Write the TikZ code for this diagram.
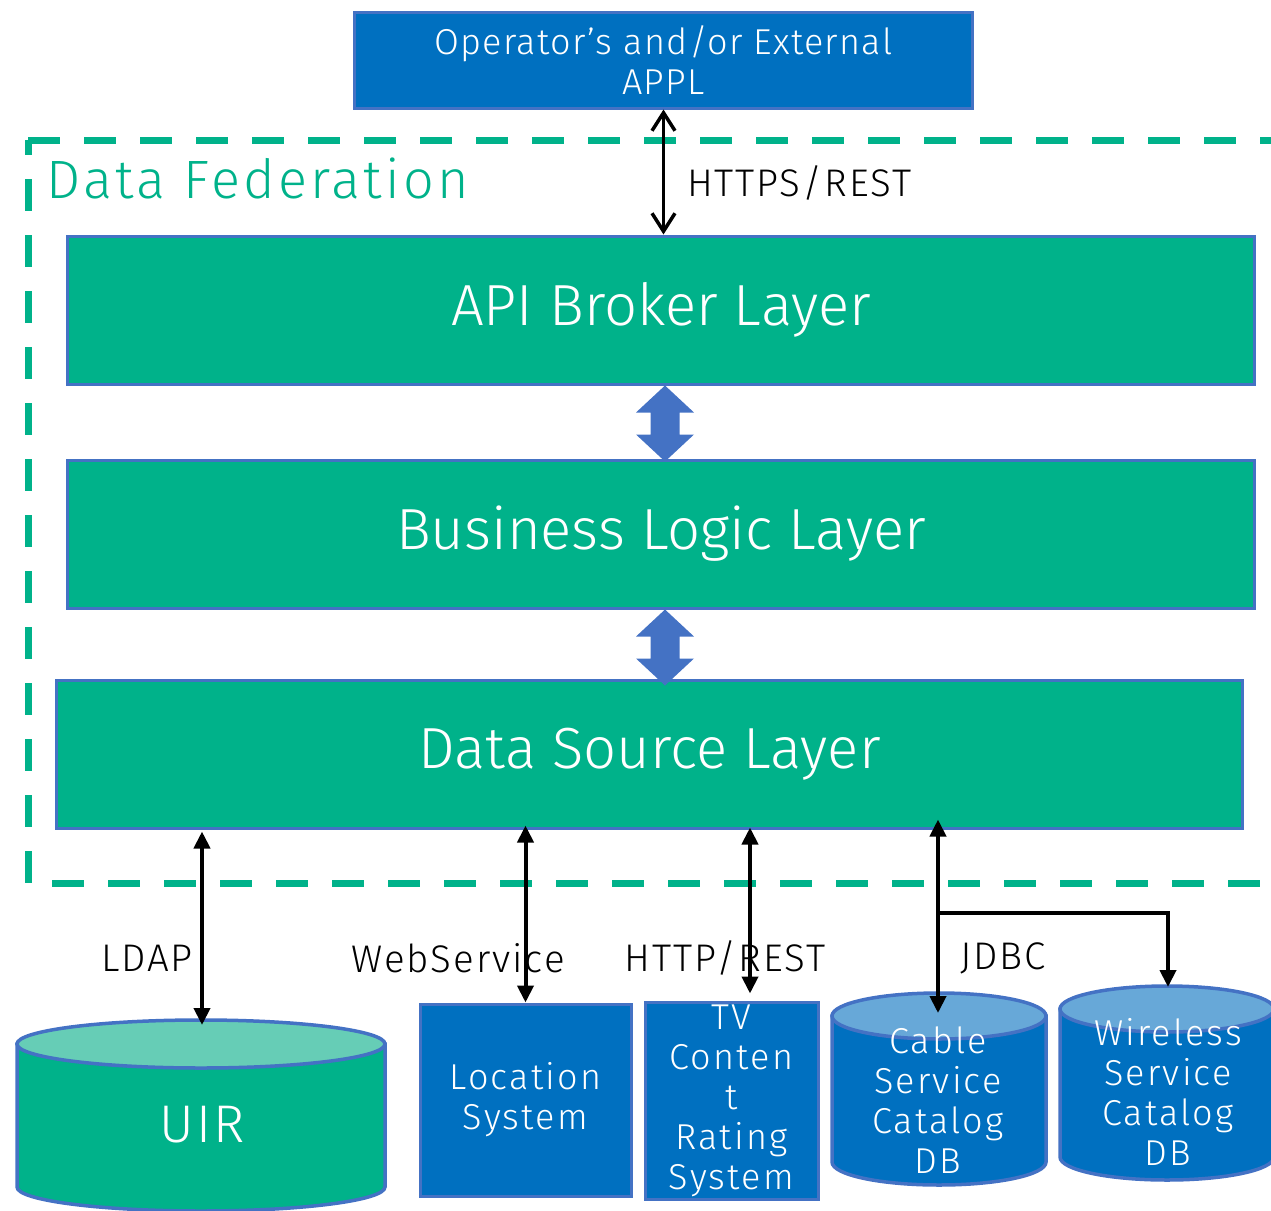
\documentclass[tikz,border=0pt]{standalone}
\usepackage{fontspec}
\setmainfont{Fira Sans Light}
\usetikzlibrary{arrows.meta,calc}

\definecolor{dfgreen}{HTML}{00B28A}
\definecolor{dftop}{HTML}{66CDB6}
\definecolor{sysblue}{HTML}{0070C0}
\definecolor{systop}{HTML}{67A8D8}
\definecolor{edgeblue}{HTML}{4472C4}

% size, leading, letter spacing
\newcommand\fs[3]{\fontsize{#1bp}{#2bp}\addfontfeatures{LetterSpace=#3}\selectfont}

% database cylinder: centre x, radius x, top centre y, bottom centre y, radius y, body, lid
\newcommand\dbcyl[7]{%
  \filldraw[cylline, fill=#6] (#1-#2,#3) -- (#1-#2,#4)
    arc[start angle=180, end angle=0, x radius=#2, y radius=#5] -- (#1+#2,#3) -- cycle;
  \filldraw[cylline, fill=#7] (#1,#3) ellipse[x radius=#2, y radius=#5];
}

% broad two-headed arrow between stacked layers, starting at its upper tip
\newcommand\fatarrow[1]{%
  \fill[edgeblue] #1 -- ++(29,27) -- ++(-14.5,0) -- ++(0,22) -- ++(14.5,0)
    -- ++(-29,27) -- ++(-29,-27) -- ++(14.5,0) -- ++(0,-22) -- ++(-14.5,0) -- cycle;
}

\begin{document}
\begin{tikzpicture}[x=1bp, y=-1bp,
  bluebox/.style={fill=sysblue, draw=edgeblue, line width=3bp, text=white,
    align=center, inner sep=0pt},
  layer/.style={fill=dfgreen, draw=edgeblue, line width=3bp, text=white,
    minimum height=148bp, inner sep=0pt, font=\fs{58}{64}{0}},
  cylline/.style={draw=edgeblue, line width=3.5bp},
  celltext/.style={text=white, align=center, inner sep=0pt},
  lbl/.style={text=black, inner sep=0pt, font=\fs{38.5}{40}{5}},
  frame/.style={draw=dfgreen, line width=7bp, dash pattern=on 32bp off 24bp},
  webline/.style={line width=3bp, black,
    {Straight Barb[length=18bp,width=23bp,line width=3.5bp]}-{Straight Barb[length=18bp,width=23bp,line width=3.5bp]}},
  link/.style={line width=4bp, black,
    {Triangle[length=17bp,width=16bp]}-{Triangle[length=17bp,width=16bp]}},
  onelink/.style={line width=4bp, black, -{Triangle[length=17bp,width=16bp]}}
]
\useasboundingbox (0,0) rectangle (1271,1211);

% federation boundary
\draw[frame, dash phase=17bp] (28,140) -- (28,885);
\draw[frame] (28,140) -- (1300,140);
\draw[frame, dash phase=32bp] (28,883) -- (1300,883);
\node[text=dfgreen, anchor=west, inner sep=0pt, font=\fs{54}{56}{6}] (fedtitle) at (46,178) {Data Federation};

% external application
\node[bluebox, minimum width=617bp, minimum height=96bp, font=\fs{36}{40}{3.5}] (appl)
  at (663.5,60) {Operator’s and/or External\\APPL};

% layers
\node[layer, minimum width=1186bp] (api) at (661,310) {API Broker Layer};
\node[layer, minimum width=1186bp] (biz) at (661,534) {Business Logic Layer};
\node[layer, minimum width=1185bp] (dsl) at (649.5,754) {Data Source Layer};

\draw[webline] (appl.south) -- (appl.south |- api.north);
\node[lbl, anchor=west] (httpslbl) at (687,183) {HTTPS/REST};

\fatarrow{([xshift=4bp]api.south)}
\fatarrow{([xshift=4bp]biz.south)}

% data sources
\dbcyl{201}{184}{1044}{1187}{24}{dfgreen}{dftop}
\dbcyl{939}{107}{1016}{1162}{23}{sysblue}{systop}
\dbcyl{1167}{107}{1009}{1157}{23}{sysblue}{systop}

\node[celltext, font=\fs{53}{56}{4}] (uir) at (202,1125) {UIR};
\node[bluebox, minimum width=211bp, minimum height=192bp, font=\fs{36}{40}{6}] (loc)
  at (525.5,1100) {Location\\System};
\node[bluebox, minimum width=173bp, minimum height=197bp, font=\fs{36}{40}{6}] (tv)
  at (731.5,1100.5) {TV\\Conten\\t\\Rating\\System};
\node[celltext, font=\fs{36}{40}{6}] (cable) at (938,1100) {Cable\\Service\\Catalog\\DB};
\node[celltext, font=\fs{36}{40}{6}] (wireless) at (1168,1092) {Wireless\\Service\\Catalog\\DB};

\coordinate (uirtop) at (202,1025);
\coordinate (cabletop) at (938,1013);
\coordinate (wltop) at (1168,987);
\coordinate (jdbcsplit) at (938,913);

% protocol links
\draw[link] ([yshift=-2bp]uirtop |- dsl.south) -- (uirtop);
\draw[link] ([yshift=4bp]loc.north |- dsl.south) -- (loc.north);
\draw[link] ([xshift=18.5bp, yshift=2bp]tv.north |- dsl.south) -- ([xshift=18.5bp, yshift=7bp]tv.north);
\draw[link] ([yshift=10bp]cabletop |- dsl.south) -- (cabletop);
\draw[onelink] (jdbcsplit) -| (wltop);

\node[lbl] (ldaplbl) at (147,958) {LDAP};
\node[lbl] (wslbl) at (458,958) {WebService};
\node[lbl] (httplbl) at (725,958) {HTTP/REST};
\node[lbl] (jdbclbl) at (1003,958) {JDBC};
\end{tikzpicture}
\end{document}
